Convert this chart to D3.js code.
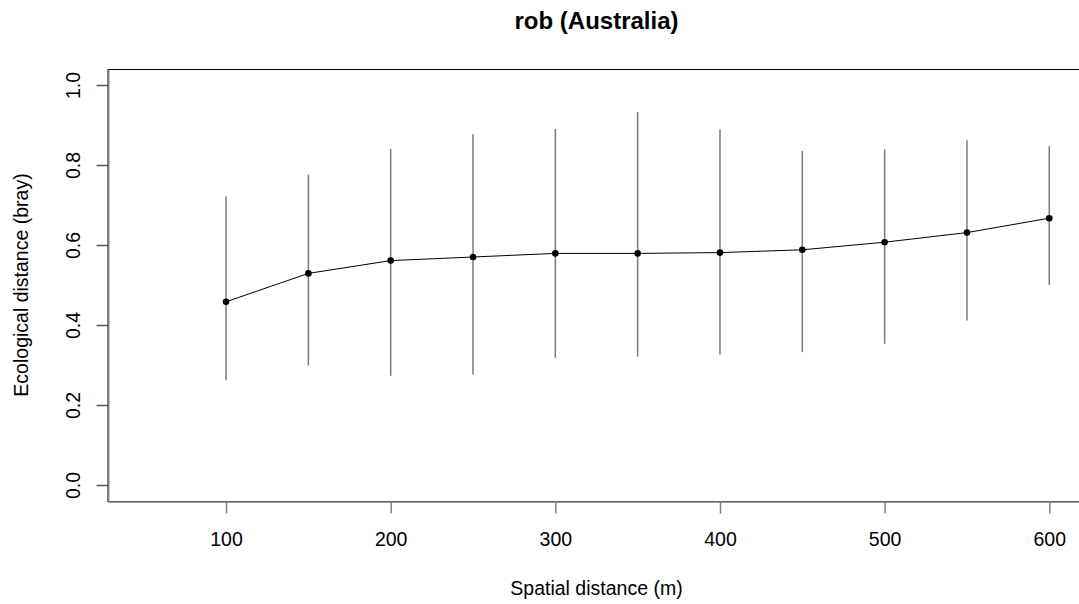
<!DOCTYPE html>
<html>
<head>
<meta charset="utf-8">
<script src="https://cdn.jsdelivr.net/npm/d3@7"></script>
<style>
  body { margin: 0; background: #fff; }
  text { font-family: "Liberation Sans", Arial, sans-serif; fill: #000; }
</style>
</head>
<body>
<div id="chart-area"></div>
<script>
// Data
const distances = [100, 150, 200, 250, 300, 350, 400, 450, 500, 550, 600]
const meanDist  = [0.458, 0.529, 0.561, 0.570, 0.579, 0.579, 0.581, 0.588, 0.607, 0.631, 0.667]
const upperDist = [0.721, 0.776, 0.840, 0.877, 0.890, 0.932, 0.889, 0.835, 0.839, 0.862, 0.847]
const lowerDist = [0.262, 0.299, 0.273, 0.276, 0.318, 0.321, 0.326, 0.332, 0.353, 0.411, 0.500]
const xTicks = [100, 200, 300, 400, 500, 600]
const yTicks = [0, 0.2, 0.4, 0.6, 0.8, 1.0]

const WIDTH = 1079
const HEIGHT = 604
const PLOT = { LEFT: 107.5, RIGHT: 1085.5, TOP: 69, BOTTOM: 501 }

const data = distances.map((d, i) => ({
  dist: d, mean: meanDist[i], hi: upperDist[i], lo: lowerDist[i]
}))

const svg = d3.select("#chart-area").append("svg")
  .attr("width", WIDTH)
  .attr("height", HEIGHT)

// Scales (R style 4% expansion)
const x = d3.scaleLinear()
  .domain([28, 622])
  .range([PLOT.LEFT, PLOT.RIGHT])

const y = d3.scaleLinear()
  .domain([-0.04, 1.04])
  .range([PLOT.BOTTOM, PLOT.TOP])

// Plot box
svg.append("rect")
  .attr("x", PLOT.LEFT + 0.5)
  .attr("y", PLOT.TOP + 0.5)
  .attr("width", PLOT.RIGHT - PLOT.LEFT)
  .attr("height", PLOT.BOTTOM - PLOT.TOP)
  .attr("fill", "none")
  .attr("stroke", "#000")
  .attr("stroke-width", 1)

// x-axis
const bottomAxis = d3.axisBottom(x)
  .tickValues(xTicks)
  .tickSize(12)
  .tickPadding(19)
  .tickSizeOuter(0)
const xAxis = svg.append("g")
  .attr("class", "bottom axis")
  .attr("transform", `translate(0, ${PLOT.BOTTOM + 0.5})`)
  .call(bottomAxis)
xAxis.select(".domain").attr("stroke", "#808080").attr("stroke-width", 1.5)
xAxis.selectAll(".tick line").attr("stroke", "#808080").attr("stroke-width", 1.5)
xAxis.selectAll(".tick text")
  .attr("font-size", "19.5px")
  .attr("font-family", "Liberation Sans, Arial, sans-serif")
  .attr("fill", "#000")

// y-axis
const leftAxis = d3.axisLeft(y)
  .tickValues(yTicks)
  .tickFormat(d3.format(".1f"))
  .tickSize(12)
  .tickSizeOuter(0)
const yAxis = svg.append("g")
  .attr("class", "left axis")
  .attr("transform", `translate(${PLOT.LEFT + 1}, 0)`)
  .call(leftAxis)
yAxis.select(".domain").attr("stroke", "#808080").attr("stroke-width", 1)
yAxis.selectAll(".tick line").attr("stroke", "#555").attr("stroke-width", 1.5)
yAxis.selectAll(".tick text")
  .attr("font-size", "19.5px")
  .attr("font-family", "Liberation Sans, Arial, sans-serif")
  .attr("fill", "#000")
  .attr("text-anchor", "middle")
  .attr("dy", null)
  .attr("x", null)
  .attr("transform", "translate(-29, 0) rotate(-90)")

// Error bars
svg.append("g")
  .selectAll("line")
  .data(data)
  .enter().append("line")
    .attr("x1", d => x(d.dist))
    .attr("x2", d => x(d.dist))
    .attr("y1", d => y(d.lo))
    .attr("y2", d => y(d.hi))
    .attr("stroke", "#7a7a7a")
    .attr("stroke-width", 1.5)

// Mean line
const line = d3.line()
  .x(d => x(d.dist))
  .y(d => y(d.mean))
svg.append("path")
  .datum(data)
  .attr("d", line)
  .attr("fill", "none")
  .attr("stroke", "#000")
  .attr("stroke-width", 1)

// Points
svg.append("g")
  .selectAll("circle")
  .data(data)
  .enter().append("circle")
    .attr("cx", d => x(d.dist))
    .attr("cy", d => y(d.mean))
    .attr("r", 3.3)
    .attr("fill", "#000")

// Title
svg.append("text")
  .attr("text-anchor", "middle")
  .attr("font-weight", "bold")
  .attr("font-size", "24px")
  .attr("x", (PLOT.LEFT + PLOT.RIGHT) / 2)
  .attr("y", 29)
  .text("rob (Australia)")

// x-label
svg.append("text")
  .attr("text-anchor", "middle")
  .attr("font-size", "19.5px")
  .attr("x", (PLOT.LEFT + PLOT.RIGHT) / 2)
  .attr("y", 595)
  .text("Spatial distance (m)")

// y-label
svg.append("text")
  .attr("text-anchor", "middle")
  .attr("font-size", "19.5px")
  .attr("transform", `translate(28, ${(PLOT.TOP + PLOT.BOTTOM) / 2}) rotate(-90)`)
  .text("Ecological distance (bray)")
</script>
</body>
</html>
